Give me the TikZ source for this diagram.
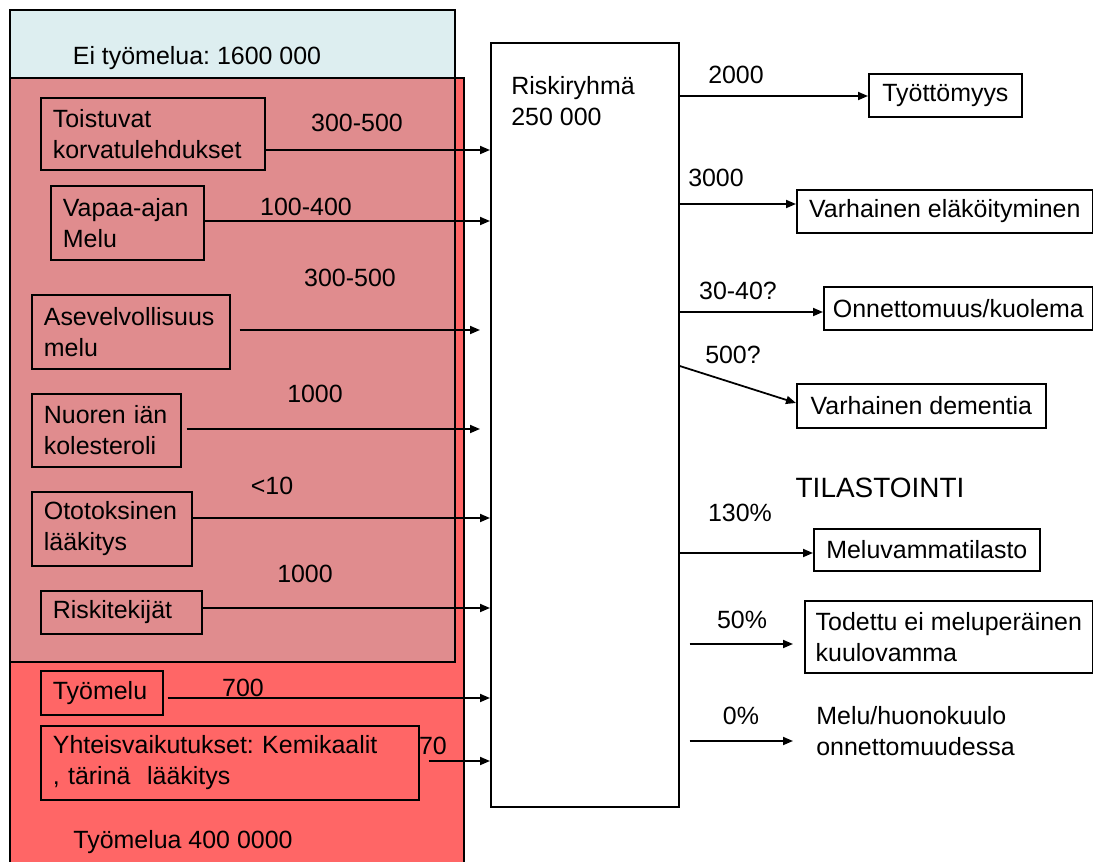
\documentclass[tikz,border=0pt]{standalone}
\usepackage{fontspec}
\setmainfont{Liberation Sans}
\usetikzlibrary{arrows.meta}
\frenchspacing

\definecolor{paleblue}{HTML}{DDEEF0}
\definecolor{overlap}{HTML}{E08C8E}
\definecolor{workred}{HTML}{FF6666}

\begin{document}
\begin{tikzpicture}[x=0.02cm,y=-0.02cm,
  font=\fontsize{14.2}{17.6}\selectfont,
  every node/.style={inner sep=0pt},
  box/.style={draw,line width=1pt,anchor=north west,align=left,inner xsep=0.24cm},
  rbox/.style={draw,line width=1pt,anchor=north west},
  num/.style={text height=0.72em,text depth=0pt},
  arr/.style={line width=1pt,-{Triangle[length=0.2cm,width=0.16cm]}}]
\useasboundingbox (0,0) rectangle (1093,862);

\draw[line width=1pt,fill=paleblue] (10,10) rectangle (455,662);
\fill[workred] (10,78) rectangle (464,862);
\draw[line width=1pt] (10,862) -- (10,78) -- (464,78) -- (464,862);
\fill[overlap] (10,78) rectangle (455,662);
\draw[line width=1pt] (10,78) rectangle (455,662);

\node[num] (ei) at (197,58) {Ei työmelua: 1600 000};
\node[num] (tm) at (183,842) {Työmelua 400 0000};

\node[box,text width=4cm,minimum height=1.44cm] (tois) at (40,97) {Toistuvat\\korvatulehdukset};
\node[box,text width=2.58cm,minimum height=1.48cm] (vapaa) at (50,185) {Vapaa-ajan\\Melu};
\node[box,text width=3.48cm,minimum height=1.48cm] (ase) at (31,294) {Asevelvollisuus\\melu};
\node[box,text width=2.5cm,minimum height=1.46cm] (nuor) at (31,393) {Nuoren iän\\kolesteroli};
\node[box,text width=2.72cm,minimum height=1.48cm] (otot) at (31,491) {Ototoksinen\\lääkitys};
\node[box,text width=2.74cm,minimum height=0.86cm] (riski) at (40,590) {Riskitekijät};
\node[box,text width=1.96cm,minimum height=0.88cm] (tyom) at (40,670) {Työmelu};
\node[box,text width=7.08cm,minimum height=1.48cm] (yht) at (40,725) {Yhteisvaikutukset: Kemikaalit\\, tärinä\ \ lääkitys};

\node[num] (n1) at (357,125) {300-500};
\node[num] (n2) at (306,209) {100-400};
\node[num] (n3) at (350,280) {300-500};
\node[num] (n4) at (315,396) {1000};
\node[num] (n5) at (272,488) {<10};
\node[num] (n6) at (305,576) {1000};
\node[num] (n7) at (243,690) {700};
\node[num] (n8) at (433,748) {70};

\node[draw,line width=1pt,anchor=north west,minimum width=3.76cm,minimum height=15.28cm] (risk) at (490,42) {};
\node[anchor=north west,align=left] (risktxt) at (511,76) {Riskiryhmä\\250 000};

\node[rbox,minimum width=3.06cm,minimum height=0.86cm] (tyot) at (868,73) {Työttömyys};
\node[rbox,minimum width=5.92cm,minimum height=0.86cm] (elak) at (796,189) {Varhainen eläköityminen};
\node[rbox,minimum width=5.38cm,minimum height=0.86cm] (onn) at (823,286) {Onnettomuus/kuolema};
\node[rbox,minimum width=4.98cm,minimum height=0.88cm] (dem) at (796,383) {Varhainen dementia};
\node[rbox,minimum width=4.52cm,minimum height=0.84cm] (mtil) at (813,528) {Meluvammatilasto};
\node[rbox,align=left,minimum width=5.76cm,minimum height=1.44cm] (tod) at (804,600) {Todettu ei meluperäinen\\kuulovamma};
\node[anchor=north west,align=left] (melu) at (816,706) {Melu/huonokuulo\\onnettomuudessa};

\node[num] (r1) at (736,77) {2000};
\node[num] (r2) at (716,180) {3000};
\node[num] (r3) at (738,293) {30-40?};
\node[num] (r4) at (733,357) {500?};
\node[num,font=\fontsize{15.9}{19}\selectfont] (tilas) at (880,491) {TILASTOINTI};
\node[num] (r5) at (740,515) {130\%};
\node[num] (r6) at (742,622) {50\%};
\node[num] (r7) at (741,718) {0\%};

\draw[arr] (tois.east |- 0,150) -- (risk.west |- 0,150);
\draw[arr] (vapaa.east |- 0,221) -- (risk.west |- 0,221);
\draw[arr,shorten <=0.18cm,shorten >=0.2cm] (ase.east |- 0,330) -- (risk.west |- 0,330);
\draw[arr,shorten <=0.1cm,shorten >=0.2cm] (nuor.east |- 0,429) -- (risk.west |- 0,429);
\draw[arr] (otot.east |- 0,518) -- (risk.west |- 0,518);
\draw[arr] (riski.east |- 0,608) -- (risk.west |- 0,608);
\draw[arr,shorten <=0.08cm] (tyom.east |- 0,698) -- (risk.west |- 0,698);
\draw[arr,shorten <=0.18cm] (yht.east |- 0,761) -- (risk.west |- 0,761);

\draw[arr] (risk.east |- 0,96) -- (tyot.west |- 0,96);
\draw[arr] (risk.east |- 0,204) -- (elak.west |- 0,204);
\draw[arr] (risk.east |- 0,312) -- (onn.west |- 0,312);
\draw[arr] (risk.east |- 0,366) -- (dem.west |- 0,403);
\draw[arr] (risk.east |- 0,553) -- (mtil.west |- 0,553);
\draw[arr,shorten <=0.2cm,shorten >=0.22cm] (risk.east |- 0,644) -- (tod.west |- 0,644);
\draw[arr,shorten <=0.2cm,shorten >=0.46cm] (risk.east |- 0,741) -- (melu.west |- 0,741);

\end{tikzpicture}
\end{document}
